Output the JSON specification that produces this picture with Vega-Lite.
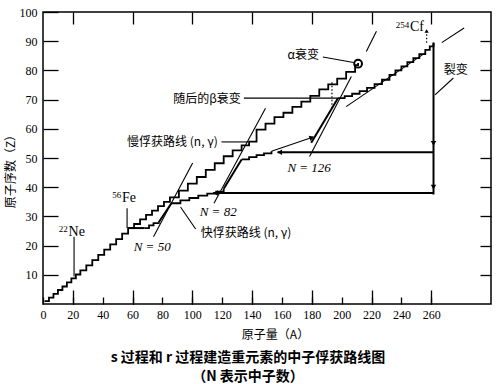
{
  "$schema": "https://vega.github.io/schema/vega-lite/v6.json",
  "width": 448,
  "height": 292,
  "autosize": "none",
  "padding": {"left": 43, "top": 12, "right": 9, "bottom": 80},
  "background": "white",
  "config": {"view": {"stroke": "black", "strokeWidth": 1.5}},
  "title": {
    "text": "s 过程和 r 过程建造重元素的中子俘获路线图",
    "subtitle": "　　　　（N 表示中子数）",
    "orient": "bottom", "anchor": "middle", "dx": -19, "offset": 11,
    "font": "Noto Sans CJK SC", "fontSize": 14, "fontWeight": "bold", "color": "black",
    "subtitleFont": "Noto Sans CJK SC", "subtitleFontSize": 14, "subtitleFontWeight": "bold", "subtitleColor": "black", "subtitlePadding": 5
  },
  "datasets": {
    "stepped": [
      {"id": "s", "o": 1, "A": 1, "Z": 1}, {"id": "s", "o": 2, "A": 4, "Z": 2.2}, {"id": "s", "o": 3, "A": 7, "Z": 3.5}, {"id": "s", "o": 4, "A": 10, "Z": 4.8},
      {"id": "s", "o": 5, "A": 13, "Z": 6}, {"id": "s", "o": 6, "A": 16, "Z": 7.4}, {"id": "s", "o": 7, "A": 19, "Z": 8.8}, {"id": "s", "o": 8, "A": 22, "Z": 10.1},
      {"id": "s", "o": 9, "A": 25, "Z": 11.5}, {"id": "s", "o": 10, "A": 29, "Z": 13.2},
      {"id": "s", "o": 11, "A": 33, "Z": 15}, {"id": "s", "o": 12, "A": 37, "Z": 16.8}, {"id": "s", "o": 13, "A": 41, "Z": 18.6}, {"id": "s", "o": 14, "A": 45, "Z": 20.4},
      {"id": "s", "o": 15, "A": 49, "Z": 22.2}, {"id": "s", "o": 16, "A": 53, "Z": 24.1}, {"id": "s", "o": 17, "A": 57, "Z": 26}, {"id": "s", "o": 18, "A": 61, "Z": 27.4},
      {"id": "s", "o": 19, "A": 65, "Z": 29}, {"id": "s", "o": 20, "A": 69, "Z": 30.5}, {"id": "s", "o": 21, "A": 73, "Z": 32}, {"id": "s", "o": 22, "A": 77, "Z": 33.5},
      {"id": "s", "o": 23, "A": 81, "Z": 35}, {"id": "s", "o": 24, "A": 85, "Z": 36.5}, {"id": "s", "o": 25, "A": 91, "Z": 38.8}, {"id": "s", "o": 26, "A": 97, "Z": 41.2},
      {"id": "s", "o": 27, "A": 103, "Z": 43.5}, {"id": "s", "o": 28, "A": 109, "Z": 45.9}, {"id": "s", "o": 29, "A": 115, "Z": 48.2}, {"id": "s", "o": 30, "A": 121, "Z": 50.6},
      {"id": "s", "o": 31, "A": 127, "Z": 52.6}, {"id": "s", "o": 32, "A": 133, "Z": 54.3}, {"id": "s", "o": 33, "A": 138, "Z": 55.6}, {"id": "s", "o": 34, "A": 143, "Z": 59.7},
      {"id": "s", "o": 35, "A": 149, "Z": 61.8}, {"id": "s", "o": 36, "A": 155, "Z": 64}, {"id": "s", "o": 37, "A": 161, "Z": 65.5}, {"id": "s", "o": 38, "A": 167, "Z": 67.5},
      {"id": "s", "o": 39, "A": 173, "Z": 69.3}, {"id": "s", "o": 40, "A": 179, "Z": 71.3}, {"id": "s", "o": 41, "A": 185, "Z": 73.5}, {"id": "s", "o": 42, "A": 191, "Z": 75.2},
      {"id": "s", "o": 43, "A": 197, "Z": 77.2}, {"id": "s", "o": 44, "A": 203, "Z": 79.5}, {"id": "s", "o": 45, "A": 209, "Z": 81.8}, {"id": "s", "o": 46, "A": 211, "Z": 82.5},
      {"id": "r2", "o": 1, "A": 68, "Z": 26}, {"id": "r2", "o": 2, "A": 71, "Z": 26.9}, {"id": "r2", "o": 3, "A": 74, "Z": 27.7}, {"id": "r2", "o": 4, "A": 77.5, "Z": 28},
      {"id": "r4", "o": 1, "A": 86, "Z": 34.5}, {"id": "r4", "o": 2, "A": 92, "Z": 35.5}, {"id": "r4", "o": 3, "A": 98, "Z": 36.3}, {"id": "r4", "o": 4, "A": 104, "Z": 37.1},
      {"id": "r4", "o": 5, "A": 110, "Z": 37.8}, {"id": "r4", "o": 6, "A": 116, "Z": 38.5}, {"id": "r4", "o": 7, "A": 121, "Z": 39.5},
      {"id": "r6", "o": 1, "A": 133, "Z": 49.5}, {"id": "r6", "o": 2, "A": 138, "Z": 50.3}, {"id": "r6", "o": 3, "A": 143, "Z": 51}, {"id": "r6", "o": 4, "A": 148, "Z": 51.6}, {"id": "r6", "o": 5, "A": 153, "Z": 52.3},
      {"id": "r8", "o": 1, "A": 197.5, "Z": 70.5}, {"id": "r8", "o": 2, "A": 202, "Z": 71.2}, {"id": "r8", "o": 3, "A": 207, "Z": 72}, {"id": "r8", "o": 4, "A": 212, "Z": 72.9},
      {"id": "r8", "o": 5, "A": 217, "Z": 74}, {"id": "r8", "o": 6, "A": 222, "Z": 75.3}, {"id": "r8", "o": 7, "A": 227, "Z": 76.8}, {"id": "r8", "o": 8, "A": 232, "Z": 78.5},
      {"id": "r8", "o": 9, "A": 236, "Z": 80}, {"id": "r8", "o": 10, "A": 240, "Z": 81.4}, {"id": "r8", "o": 11, "A": 244, "Z": 82.8}, {"id": "r8", "o": 12, "A": 248, "Z": 84.2},
      {"id": "r8", "o": 13, "A": 252, "Z": 85.6}, {"id": "r8", "o": 14, "A": 256, "Z": 87}, {"id": "r8", "o": 15, "A": 259, "Z": 88.2}, {"id": "r8", "o": 16, "A": 261.5, "Z": 89.5}
    ],
    "thick": [
      {"id": "r1", "o": 1, "A": 57, "Z": 26}, {"id": "r1", "o": 2, "A": 68, "Z": 26},
      {"id": "r3", "o": 1, "A": 77.5, "Z": 28}, {"id": "r3", "o": 2, "A": 86, "Z": 34.5},
      {"id": "r5", "o": 1, "A": 121, "Z": 39.5}, {"id": "r5", "o": 2, "A": 133, "Z": 49.5},
      {"id": "r7", "o": 1, "A": 179.6, "Z": 55.2}, {"id": "r7", "o": 2, "A": 197.5, "Z": 70.5},
      {"id": "f1", "o": 1, "A": 261.5, "Z": 89.5}, {"id": "f1", "o": 2, "A": 261.5, "Z": 37.5},
      {"id": "f2", "o": 1, "A": 261.5, "Z": 52}, {"id": "f2", "o": 2, "A": 157, "Z": 52},
      {"id": "f3", "o": 1, "A": 261.5, "Z": 38}, {"id": "f3", "o": 2, "A": 114, "Z": 38}
    ],
    "thin": [
      {"id": "a1", "o": 1, "A": 153, "Z": 52.3}, {"id": "a1", "o": 2, "A": 181, "Z": 57.2},
      {"id": "n50", "o": 1, "A": 74, "Z": 23}, {"id": "n50", "o": 2, "A": 100.2, "Z": 48.3},
      {"id": "n82", "o": 1, "A": 114.5, "Z": 34.5}, {"id": "n82", "o": 2, "A": 149, "Z": 67},
      {"id": "n126a", "o": 1, "A": 178.5, "Z": 50.5}, {"id": "n126a", "o": 2, "A": 206.5, "Z": 77.9},
      {"id": "n126b", "o": 1, "A": 216.5, "Z": 86.5}, {"id": "n126b", "o": 2, "A": 223.3, "Z": 93.4},
      {"id": "cfa", "o": 1, "A": 203, "Z": 67.6}, {"id": "cfa", "o": 2, "A": 256, "Z": 86},
      {"id": "cfb", "o": 1, "A": 267, "Z": 89.5}, {"id": "cfb", "o": 2, "A": 282, "Z": 94.5},
      {"id": "lNe", "o": 1, "A": 20.8, "Z": 23}, {"id": "lNe", "o": 2, "A": 20.8, "Z": 9.4},
      {"id": "lFe", "o": 1, "A": 56.3, "Z": 32.8}, {"id": "lFe", "o": 2, "A": 56.3, "Z": 26},
      {"id": "lfast", "o": 1, "A": 102.2, "Z": 25.7}, {"id": "lfast", "o": 2, "A": 92.1, "Z": 33.2},
      {"id": "lslow", "o": 1, "A": 119.5, "Z": 55.5}, {"id": "lslow", "o": 2, "A": 137.2, "Z": 55.5},
      {"id": "lbeta", "o": 1, "A": 134.5, "Z": 70.5}, {"id": "lbeta", "o": 2, "A": 197.5, "Z": 70.5},
      {"id": "lalpha", "o": 1, "A": 187.4, "Z": 84.6}, {"id": "lalpha", "o": 2, "A": 208, "Z": 82.7},
      {"id": "lfis", "o": 1, "A": 274.8, "Z": 77.4}, {"id": "lfis", "o": 2, "A": 262.5, "Z": 71.6}
    ],
    "dotted": [
      {"id": "dbeta", "o": 1, "A": 193.5, "Z": 67}, {"id": "dbeta", "o": 2, "A": 193.5, "Z": 76},
      {"id": "dcf", "o": 1, "A": 256.9, "Z": 89.5}, {"id": "dcf", "o": 2, "A": 256.9, "Z": 93.5}
    ],
    "heads": [
      {"dir": "down", "A": 261.5, "Z": 55}, {"dir": "down", "A": 261.5, "Z": 40},
      {"dir": "left", "A": 158.5, "Z": 52}, {"dir": "left", "A": 115.5, "Z": 38},
      {"dir": "upright", "A": 180, "Z": 57}, {"dir": "up", "A": 256.9, "Z": 93.5}
    ],
    "alpha": [{"A": 211, "Z": 82.3}],
    "cnRight": [
      {"text": "随后的β衰变", "A": 132.5, "Z": 70.3},
      {"text": "慢俘获路线 (n, γ)", "A": 117, "Z": 55.5},
      {"text": "α衰变", "A": 184.9, "Z": 85.4}
    ],
    "cnLeft": [{"text": "快俘获路线 (n, γ)", "A": 105.6, "Z": 24.3}],
    "cnCenter": [{"text": "裂变", "A": 276.4, "Z": 80.2}],
    "nLabels": [
      {"text": "N = 126", "A": 178.2, "Z": 46.6},
      {"text": "N = 82", "A": 117.3, "Z": 31.5},
      {"text": "N = 50", "A": 73.1, "Z": 19.6}
    ],
    "elem": [
      {"text": "Fe", "A": 52.9, "Z": 36.2},
      {"text": "Ne", "A": 17.1, "Z": 24.8},
      {"text": "Cf", "A": 245.7, "Z": 94.9}
    ],
    "sup": [
      {"text": "56", "A": 52.4, "Z": 37.5},
      {"text": "22", "A": 16.5, "Z": 25.8},
      {"text": "254", "A": 245.3, "Z": 95.6}
    ]
  },
  "encoding": {
    "x": {"field": "A", "type": "quantitative", "scale": {"domain": [0, 300], "nice": false, "zero": false}, "axis": null},
    "y": {"field": "Z", "type": "quantitative", "scale": {"domain": [0, 100], "nice": false, "zero": false}, "axis": null}
  },
  "layer": [
    {
      "data": {"name": "stepped"},
      "mark": {"type": "line", "interpolate": "step-after", "color": "black", "strokeWidth": 1.8},
      "encoding": {
        "x": {"field": "A", "type": "quantitative", "scale": {"domain": [0, 300], "nice": false, "zero": false},
          "axis": {"orient": "bottom", "values": [0, 20, 40, 60, 80, 100, 120, 140, 160, 180, 200, 220, 240, 260],
            "tickSize": -7, "tickColor": "black", "tickWidth": 1.3, "labelPadding": 12, "labelFont": "Liberation Serif",
            "labelFontSize": 12, "labelColor": "black", "labelFlush": false, "labelOverlap": false, "domain": false, "grid": false,
            "title": "原子量（A）", "titleFont": "Noto Sans CJK SC", "titleFontSize": 12, "titleFontWeight": "normal", "titleColor": "black",
            "titleX": 232, "titleY": 30, "titleBaseline": "middle", "titleAlign": "center"}},
        "y": {"field": "Z", "type": "quantitative", "scale": {"domain": [0, 100], "nice": false, "zero": false},
          "axis": {"orient": "left", "values": [10, 20, 30, 40, 50, 60, 70, 80, 90, 100],
            "tickSize": -15, "tickColor": "black", "tickWidth": 1.3, "labelPadding": 21, "labelFont": "Liberation Serif",
            "labelFontSize": 12, "labelColor": "black", "labelFlush": false, "labelOverlap": false, "domain": false, "grid": false,
            "title": "原子序数（Z）", "titleFont": "Noto Sans CJK SC", "titleFontSize": 12, "titleFontWeight": "normal", "titleColor": "black",
            "titleX": -33, "titleY": 156, "titleAngle": 270, "titleBaseline": "middle", "titleAlign": "center"}},
        "detail": {"field": "id"},
        "order": {"field": "o", "type": "quantitative"}
      }
    },
    {
      "data": {"name": "thick"},
      "mark": {"type": "line", "color": "black", "strokeWidth": 2},
      "encoding": {
        "x": {"field": "A", "type": "quantitative", "scale": {"domain": [0, 300], "nice": false, "zero": false},
          "axis": {"orient": "bottom", "values": [20, 60, 100, 140, 180, 220, 260], "tickSize": -14, "tickColor": "black", "tickWidth": 1.3,
            "labels": false, "domain": false, "grid": false, "title": null}},
        "y": {"field": "Z", "type": "quantitative", "scale": {"domain": [0, 100], "nice": false, "zero": false},
          "axis": {"orient": "right", "values": [10, 20, 30, 40, 50, 60, 70, 80, 90], "tickSize": -11, "tickColor": "black", "tickWidth": 1.3,
            "labels": false, "domain": false, "grid": false, "title": null}},
        "detail": {"field": "id"},
        "order": {"field": "o", "type": "quantitative"}
      }
    },
    {
      "data": {"name": "thin"},
      "mark": {"type": "line", "color": "black", "strokeWidth": 1.1},
      "encoding": {
        "x": {"field": "A", "type": "quantitative", "scale": {"domain": [0, 300], "nice": false, "zero": false},
          "axis": {"orient": "top", "values": [20, 60, 100, 140, 180, 220, 260], "tickSize": -12, "tickColor": "black", "tickWidth": 1.3,
            "labels": false, "domain": false, "grid": false, "title": null}},
        "detail": {"field": "id"},
        "order": {"field": "o", "type": "quantitative"}
      }
    },
    {
      "data": {"name": "dotted"},
      "mark": {"type": "line", "color": "black", "strokeWidth": 1.2, "strokeDash": [1.5, 2]},
      "encoding": {"detail": {"field": "id"}, "order": {"field": "o", "type": "quantitative"}}
    },
    {
      "data": {"name": "heads"},
      "transform": [{"filter": "datum.dir == 'down'"}],
      "mark": {"type": "point", "shape": "triangle-down", "filled": true, "color": "black", "size": 30, "opacity": 1}
    },
    {
      "data": {"name": "heads"},
      "transform": [{"filter": "datum.dir == 'left'"}],
      "mark": {"type": "point", "shape": "triangle-left", "filled": true, "color": "black", "size": 30, "opacity": 1}
    },
    {
      "data": {"name": "heads"},
      "transform": [{"filter": "datum.dir == 'upright'"}],
      "mark": {"type": "point", "shape": "triangle-up", "angle": 70, "filled": true, "color": "black", "size": 30, "opacity": 1}
    },
    {
      "data": {"name": "heads"},
      "transform": [{"filter": "datum.dir == 'up'"}],
      "mark": {"type": "point", "shape": "triangle-up", "filled": true, "color": "black", "size": 18, "opacity": 1}
    },
    {
      "data": {"name": "alpha"},
      "mark": {"type": "point", "shape": "circle", "filled": false, "color": "black", "size": 60, "strokeWidth": 2, "opacity": 1}
    },
    {
      "data": {"name": "cnRight"},
      "mark": {"type": "text", "align": "right", "baseline": "middle", "font": "Noto Sans CJK SC", "fontSize": 12, "color": "black"},
      "encoding": {"text": {"field": "text"}}
    },
    {
      "data": {"name": "cnLeft"},
      "mark": {"type": "text", "align": "left", "baseline": "middle", "font": "Noto Sans CJK SC", "fontSize": 12, "color": "black"},
      "encoding": {"text": {"field": "text"}}
    },
    {
      "data": {"name": "cnCenter"},
      "mark": {"type": "text", "align": "center", "baseline": "middle", "font": "Noto Sans CJK SC", "fontSize": 12, "color": "black"},
      "encoding": {"text": {"field": "text"}}
    },
    {
      "data": {"name": "nLabels"},
      "mark": {"type": "text", "align": "center", "baseline": "middle", "font": "Liberation Serif", "fontSize": 13, "fontStyle": "italic", "color": "black"},
      "encoding": {"text": {"field": "text"}}
    },
    {
      "data": {"name": "elem"},
      "mark": {"type": "text", "align": "left", "baseline": "middle", "font": "Liberation Serif", "fontSize": 14, "color": "black"},
      "encoding": {"text": {"field": "text"}}
    },
    {
      "data": {"name": "sup"},
      "mark": {"type": "text", "align": "right", "baseline": "middle", "font": "Liberation Serif", "fontSize": 9, "color": "black"},
      "encoding": {"text": {"field": "text"}}
    }
  ],
  "resolve": {"axis": {"x": "independent", "y": "independent"}}
}
